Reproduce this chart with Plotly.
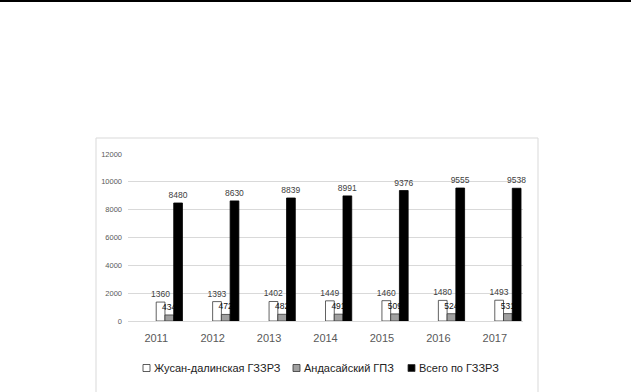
import plotly.graph_objects as go

years = ["2011", "2012", "2013", "2014", "2015", "2016", "2017"]
zhusan = [1360, 1393, 1402, 1449, 1460, 1480, 1493]
andasay = [434, 472, 482, 491, 509, 524, 531]
total = [8480, 8630, 8839, 8991, 9376, 9555, 9538]
series_names = ["Жусан-далинская ГЗЗРЗ", "Андасайский ГПЗ", "Всего по ГЗЗРЗ"]
y_ticks = [0, 2000, 4000, 6000, 8000, 10000, 12000]

FONT = "Liberation Sans"
bar_w = 0.155

W, H = 631, 392
ML, MR, MT, MB = 128, 108, 154, 71
PW, PH = W - ML - MR, H - MT - MB


def px_x(px):
    return (px - ML) / PW


def px_y(py):
    return (H - MB - py) / PH


fig = go.Figure()
specs = [
    (zhusan, "#ffffff", "#3a3a3a", "#404040", 0.0),
    (andasay, "#a0a0a0", "#3a3a3a", "#111111", bar_w),
    (total, "#000000", "#000000", "#404040", 2 * bar_w),
]
for name, (vals, fill, edge, tcol, off) in zip(series_names, specs):
    fig.add_trace(go.Bar(
        x=years, y=vals, name=name,
        width=bar_w, offset=off,
        marker=dict(color=fill, line=dict(color=edge, width=0.8)),
        text=[str(v) for v in vals], textposition="outside",
        constraintext="none", cliponaxis=False,
        textfont=dict(family=FONT, size=8.5, color=tcol),
        showlegend=False, hoverinfo="x+y+name",
    ))

# custom legend (square swatch + label), laid out like the original
legend_left = [143, 293, 408]
legend_y = 368
shapes = [
    dict(type="rect", xref="paper", yref="paper", x0=px_x(96), x1=px_x(538),
         y0=px_y(420), y1=px_y(138), line=dict(color="#d9d9d9", width=1), layer="below"),
    dict(type="line", xref="paper", yref="paper", x0=px_x(-5), x1=px_x(640),
         y0=px_y(1), y1=px_y(1), line=dict(color="#000000", width=2)),
]
annotations = []
for name, (vals, fill, edge, tcol, off), lx in zip(series_names, specs, legend_left):
    shapes.append(dict(type="rect", xref="paper", yref="paper",
                       x0=px_x(lx), x1=px_x(lx + 7),
                       y0=px_y(legend_y + 3.5), y1=px_y(legend_y - 3.5),
                       fillcolor=fill, line=dict(color="#333333", width=0.8)))
    annotations.append(dict(xref="paper", yref="paper", x=px_x(lx + 9), y=px_y(legend_y),
                            xanchor="left", yanchor="middle", showarrow=False,
                            text=name, font=dict(family=FONT, size=11, color="#222222")))

fig.update_layout(
    width=W, height=H,
    margin=dict(l=ML, r=MR, t=MT, b=MB),
    paper_bgcolor="white", plot_bgcolor="white",
    barmode="overlay",
    font=dict(family=FONT, color="#404040"),
    showlegend=False,
    xaxis=dict(
        type="category", range=[-0.5, 6.5], showgrid=False, zeroline=False,
        showline=False, ticks="", ticklabelstandoff=9,
        tickfont=dict(family=FONT, size=11, color="#595959"),
    ),
    yaxis=dict(
        range=[0, 12000], tickvals=y_ticks, tickformat="d", showgrid=True,
        gridcolor="#d9d9d9", gridwidth=1, zeroline=True, zerolinecolor="#d9d9d9",
        zerolinewidth=1, showline=False, ticks="", ticklabelstandoff=5,
        tickfont=dict(family=FONT, size=7.5, color="#595959"),
    ),
    shapes=shapes,
    annotations=annotations,
)

fig.write_html("out.html", config={"displayModeBar": False},
               post_script="document.body.style.margin='0';")
